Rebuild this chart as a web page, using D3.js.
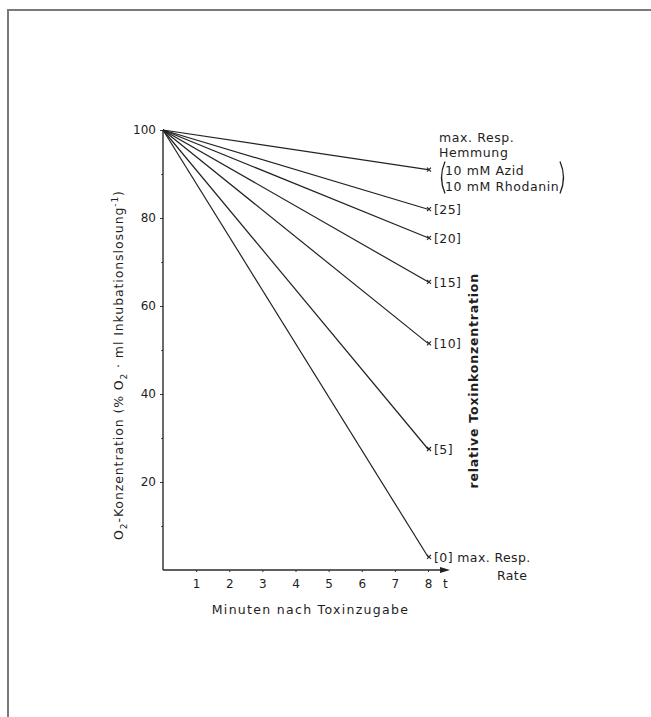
<!DOCTYPE html>
<html>
<head>
<meta charset="utf-8">
<script src="https://cdn.jsdelivr.net/npm/d3@7"></script>
<style>
  body { margin: 0; background: #fff; }
  text { font-family: "DejaVu Sans", sans-serif; fill: #1e1e1e; }
</style>
</head>
<body>
<div id="chart"></div>
<script>
// Données
const minutes = [0, 8];
const startValue = 100;
const seriesLabels = ["max", "[25]", "[20]", "[15]", "[10]", "[5]", "[0]"];
const endValues = [91, 82, 75.5, 65.5, 51.5, 27.5, 3];
const xTicks = [1, 2, 3, 4, 5, 6, 7, 8];
const yTicks = [20, 40, 60, 80, 100];
const yMinorTicks = [10, 30, 50, 70, 90];

const W = 651, H = 717;
const margin = { top: 130, left: 163 };
const plotW = 265, plotH = 440;

const svg = d3.select("#chart").append("svg")
    .attr("width", W)
    .attr("height", H);

// Cadre de la figure
svg.append("rect")
    .attr("x", 8).attr("y", 10)
    .attr("width", W + 10).attr("height", H + 10)
    .attr("fill", "none")
    .attr("stroke", "#7a7a7a")
    .attr("stroke-width", 2);

const g = svg.append("g")
    .attr("transform", `translate(${margin.left}, ${margin.top})`);

const x = d3.scaleLinear().domain([0, 8]).range([0, plotW]);
const y = d3.scaleLinear().domain([0, 100]).range([plotH, 0]);

// Axe Y
const yAxis = g.append("g")
    .call(d3.axisLeft(y).tickValues(yTicks).tickSize(3).tickPadding(4));
yAxis.select(".domain").remove();
yAxis.selectAll("text").style("font-size", "12px").style("font-family", "DejaVu Sans");
yAxis.selectAll("line").attr("stroke", "#333");

g.append("g")
    .call(d3.axisLeft(y).tickValues(yMinorTicks).tickSize(2).tickFormat(""))
    .call(a => a.select(".domain").remove())
    .selectAll("line").attr("stroke", "#555");

g.append("line")
    .attr("x1", 0).attr("x2", 0)
    .attr("y1", y(0)).attr("y2", y(100))
    .attr("stroke", "#2a2a2a").attr("stroke-width", 1.4);

// Axe X avec flèche
const xAxis = g.append("g")
    .attr("transform", `translate(0, ${plotH})`)
    .call(d3.axisBottom(x).tickValues(xTicks).tickSize(2).tickPadding(7));
xAxis.select(".domain").remove();
xAxis.selectAll("text").style("font-size", "12px").style("font-family", "DejaVu Sans");
xAxis.selectAll("line").attr("stroke", "#333");

const arrowEnd = x(8) + 22;
g.append("line")
    .attr("x1", 0).attr("x2", arrowEnd - 6)
    .attr("y1", plotH).attr("y2", plotH)
    .attr("stroke", "#2a2a2a").attr("stroke-width", 1.6);
g.append("path")
    .attr("d", `M${arrowEnd},${plotH} L${arrowEnd - 10},${plotH - 3} L${arrowEnd - 10},${plotH + 3} Z`)
    .attr("fill", "#222");

g.append("text")
    .attr("x", x(8) + 15)
    .attr("y", plotH + 18)
    .style("font-size", "12px")
    .text("t");

// Lignes
const line = d3.line().x(d => x(d[0])).y(d => y(d[1]));
g.selectAll(".serie")
    .data(endValues)
    .enter()
    .append("path")
    .attr("class", "serie")
    .attr("d", d => line([[minutes[0], startValue], [minutes[1], d]]))
    .attr("fill", "none")
    .attr("stroke", "#222")
    .attr("stroke-width", 1.2);

// Marqueurs ×
g.selectAll(".cross")
    .data(endValues)
    .enter()
    .append("path")
    .attr("class", "cross")
    .attr("d", d => {
        const cx = x(8) + 1, cy = y(d), s = 2;
        return `M${cx - s},${cy - s}L${cx + s},${cy + s}M${cx - s},${cy + s}L${cx + s},${cy - s}`;
    })
    .attr("stroke", "#222")
    .attr("stroke-width", 1.1);

// Étiquettes des séries
const labelX = x(8) + 6;
g.selectAll(".lab")
    .data(seriesLabels.map((l, i) => ({ l, v: endValues[i] })).filter(d => d.l !== "max"))
    .enter()
    .append("text")
    .attr("class", "lab")
    .attr("x", labelX)
    .attr("y", d => y(d.v) + 5)
    .style("font-size", "12.5px")
    .style("letter-spacing", "0.4px")
    .text(d => d.l === "[0]" ? "[0] max. Resp." : d.l);

g.append("text")
    .attr("x", labelX + 63)
    .attr("y", y(endValues[6]) + 23)
    .style("font-size", "12.5px")
    .style("letter-spacing", "0.4px")
    .text("Rate");

// Bloc "max. Resp. Hemmung"
const yMax = y(endValues[0]);
const block = g.append("g").attr("transform", `translate(${labelX + 5}, ${yMax})`);
[["max. Resp.", -28, 0], ["Hemmung", -13, 0], ["10 mM Azid", 5, 6], ["10 mM Rhodanin", 21, 6]]
    .forEach(([t, dy, dx]) => {
        block.append("text")
            .attr("x", dx).attr("y", dy)
            .style("font-size", "12.5px")
            .style("letter-spacing", "0.6px")
            .text(t);
    });
block.append("path")
    .attr("d", "M6,-8 Q-1,8 6,24")
    .attr("fill", "none").attr("stroke", "#222").attr("stroke-width", 1.3);
block.append("path")
    .attr("d", "M121,-8 Q128,8 121,24")
    .attr("fill", "none").attr("stroke", "#222").attr("stroke-width", 1.3);

// Titres des axes
g.append("text")
    .attr("transform", `translate(${-40}, ${plotH / 2 + 15}) rotate(-90)`)
    .attr("text-anchor", "middle")
    .style("font-size", "12.5px")
    .style("letter-spacing", "0.9px")
    .html('O<tspan dy="4" font-size="9">2</tspan><tspan dy="-4">-Konzentration (% O</tspan><tspan dy="4" font-size="9">2</tspan><tspan dy="-4"> · ml Inkubationslosung</tspan><tspan dy="-5" font-size="9">-1</tspan><tspan dy="5">)</tspan>');

g.append("text")
    .attr("x", x(4) + 15)
    .attr("y", plotH + 44)
    .attr("text-anchor", "middle")
    .style("font-size", "12.5px")
    .style("letter-spacing", "1.3px")
    .text("Minuten nach Toxinzugabe");

g.append("text")
    .attr("transform", `translate(${x(8) + 50}, ${y(43)}) rotate(-90)`)
    .attr("text-anchor", "middle")
    .style("font-size", "12.5px")
    .style("font-weight", "bold")
    .style("letter-spacing", "0.8px")
    .text("relative Toxinkonzentration");
</script>
</body>
</html>
